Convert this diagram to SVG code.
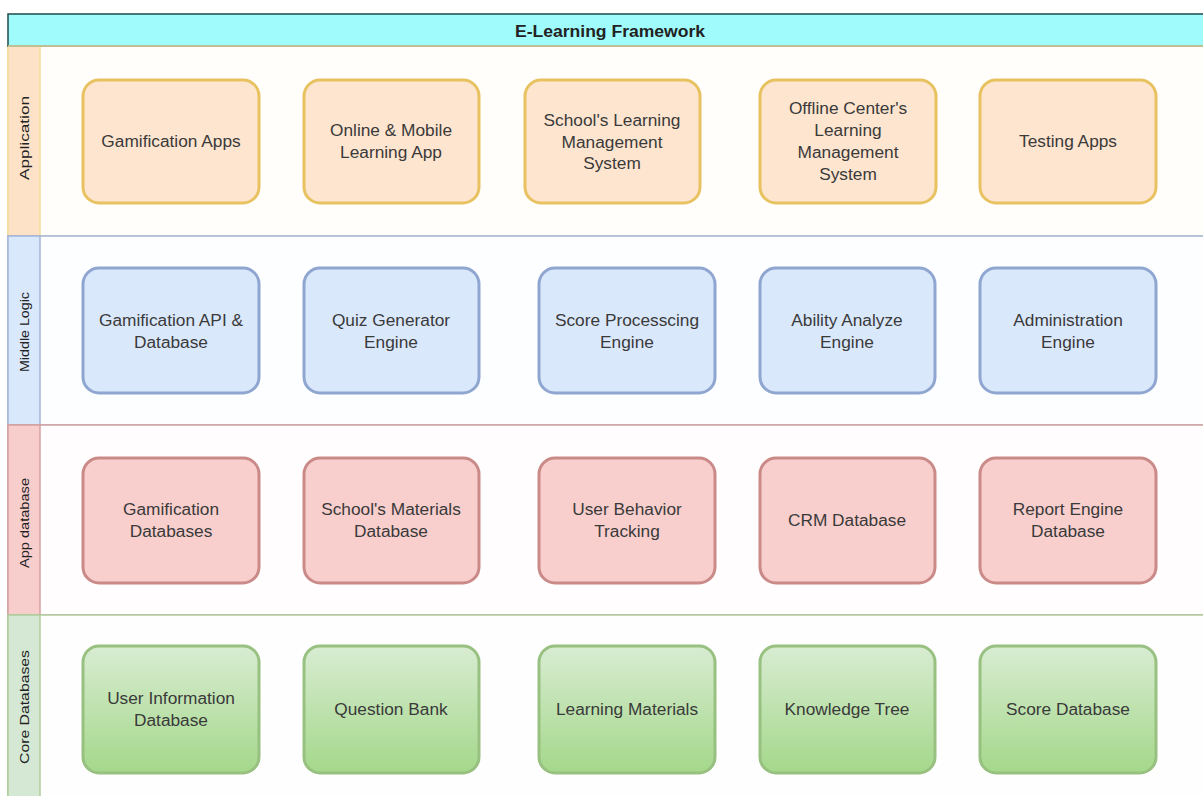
<svg xmlns="http://www.w3.org/2000/svg" width="1203" height="796" viewBox="0 0 1203 796">
<defs>
<linearGradient id="gG" x1="0" y1="0" x2="0" y2="1"><stop offset="0" stop-color="#d8ecd2"/><stop offset="1" stop-color="#a4d88a"/></linearGradient>
<style>
.t{font-family:"Liberation Sans",Arial,sans-serif;font-size:17.3px;fill:#3a3a3a;text-anchor:middle}
.lab{font-family:"Liberation Sans",Arial,sans-serif;font-size:13.5px;fill:#222;text-anchor:middle}
.o{fill:#fee5cf;stroke:#e8c260;stroke-width:3}
.b{fill:#dae8fc;stroke:#8fa6d0;stroke-width:3}
.r{fill:#f8cfcd;stroke:#c98a88;stroke-width:3}
.g{fill:url(#gG);stroke:#98c080;stroke-width:3}
</style>
</defs>
<rect width="1203" height="796" fill="#ffffff"/>
<g id="lanes">
<rect x="8" y="46" width="1200" height="190" fill="#fffefb" stroke="#f3dc9a" stroke-width="1.5"/>
<rect x="8" y="46" width="32" height="190" fill="#fde2c8" stroke="#f3dc9a" stroke-width="1.5"/>
<rect x="8" y="236" width="1200" height="189" fill="#fdfeff" stroke="#a3b5d6" stroke-width="1.5"/>
<rect x="8" y="236" width="32" height="189" fill="#dae8fc" stroke="#a3b5d6" stroke-width="1.5"/>
<rect x="8" y="425" width="1200" height="190" fill="#fffdfd" stroke="#d4a0a0" stroke-width="1.5"/>
<rect x="8" y="425" width="32" height="190" fill="#f8cecc" stroke="#d4a0a0" stroke-width="1.5"/>
<rect x="8" y="615" width="1200" height="190" fill="#fdfefd" stroke="#b0cc9c" stroke-width="1.5"/>
<rect x="8" y="615" width="32" height="190" fill="#d5e8d4" stroke="#b0cc9c" stroke-width="1.5"/>
<text class="lab" transform="translate(29,138) rotate(-90)" textLength="84" lengthAdjust="spacingAndGlyphs">Application</text>
<text class="lab" transform="translate(29,332) rotate(-90)" textLength="80" lengthAdjust="spacingAndGlyphs">Middle Logic</text>
<text class="lab" transform="translate(29,523) rotate(-90)" textLength="90" lengthAdjust="spacingAndGlyphs">App database</text>
<text class="lab" transform="translate(29,707) rotate(-90)" textLength="114" lengthAdjust="spacingAndGlyphs">Core Databases</text>
</g>
<g id="title">
<rect x="8" y="14" width="1200" height="32" fill="#a0fcfc" stroke="#1f4a4a" stroke-width="1.5"/>
<line x1="8" y1="46" x2="1203" y2="46" stroke="#e8d8a0" stroke-width="1.5"/>
<text x="610" y="37" font-family="Liberation Sans,Arial,sans-serif" font-size="16" font-weight="bold" fill="#222" text-anchor="middle" textLength="190" lengthAdjust="spacingAndGlyphs">E-Learning Framework</text>
</g>
<g id="n-gamification-apps"><rect class="o" x="83" y="80" width="176" height="123" rx="16"/><text class="t" x="171" y="147">Gamification Apps</text></g>
<g id="n-online-mobile"><rect class="o" x="304" y="80" width="175" height="123" rx="16"/><text class="t" x="391" y="136">Online &amp; Mobile</text><text class="t" x="391" y="158">Learning App</text></g>
<g id="n-school-lms"><rect class="o" x="525" y="80" width="175" height="123" rx="16"/><text class="t" x="612" y="126">School's Learning</text><text class="t" x="612" y="148">Management</text><text class="t" x="612" y="169">System</text></g>
<g id="n-offline-lms"><rect class="o" x="760" y="80" width="176" height="123" rx="16"/><text class="t" x="848" y="114">Offline Center's</text><text class="t" x="848" y="136">Learning</text><text class="t" x="848" y="158">Management</text><text class="t" x="848" y="180">System</text></g>
<g id="n-testing-apps"><rect class="o" x="980" y="80" width="176" height="123" rx="16"/><text class="t" x="1068" y="147">Testing Apps</text></g>

<g id="n-gamification-api"><rect class="b" x="83" y="268" width="176" height="125" rx="16"/><text class="t" x="171" y="326">Gamification API &amp;</text><text class="t" x="171" y="348">Database</text></g>
<g id="n-quiz"><rect class="b" x="304" y="268" width="175" height="125" rx="16"/><text class="t" x="391" y="326">Quiz Generator</text><text class="t" x="391" y="348">Engine</text></g>
<g id="n-score-proc"><rect class="b" x="539" y="268" width="176" height="125" rx="16"/><text class="t" x="627" y="326">Score Processcing</text><text class="t" x="627" y="348">Engine</text></g>
<g id="n-ability"><rect class="b" x="760" y="268" width="175" height="125" rx="16"/><text class="t" x="847" y="326">Ability Analyze</text><text class="t" x="847" y="348">Engine</text></g>
<g id="n-admin"><rect class="b" x="980" y="268" width="176" height="125" rx="16"/><text class="t" x="1068" y="326">Administration</text><text class="t" x="1068" y="348">Engine</text></g>

<g id="n-gamification-db"><rect class="r" x="83" y="458" width="176" height="125" rx="16"/><text class="t" x="171" y="515">Gamification</text><text class="t" x="171" y="537">Databases</text></g>
<g id="n-school-materials"><rect class="r" x="304" y="458" width="175" height="125" rx="16"/><text class="t" x="391" y="515">School's Materials</text><text class="t" x="391" y="537">Database</text></g>
<g id="n-user-behavior"><rect class="r" x="539" y="458" width="176" height="125" rx="16"/><text class="t" x="627" y="515">User Behavior</text><text class="t" x="627" y="537">Tracking</text></g>
<g id="n-crm"><rect class="r" x="760" y="458" width="175" height="125" rx="16"/><text class="t" x="847" y="526">CRM Database</text></g>
<g id="n-report"><rect class="r" x="980" y="458" width="176" height="125" rx="16"/><text class="t" x="1068" y="515">Report Engine</text><text class="t" x="1068" y="537">Database</text></g>

<g id="n-user-info"><rect class="g" x="83" y="646" width="176" height="127" rx="16"/><text class="t" x="171" y="704">User Information</text><text class="t" x="171" y="726">Database</text></g>
<g id="n-question-bank"><rect class="g" x="304" y="646" width="175" height="127" rx="16"/><text class="t" x="391" y="715">Question Bank</text></g>
<g id="n-learning-materials"><rect class="g" x="539" y="646" width="176" height="127" rx="16"/><text class="t" x="627" y="715">Learning Materials</text></g>
<g id="n-knowledge-tree"><rect class="g" x="760" y="646" width="175" height="127" rx="16"/><text class="t" x="847" y="715">Knowledge Tree</text></g>
<g id="n-score-db"><rect class="g" x="980" y="646" width="176" height="127" rx="16"/><text class="t" x="1068" y="715">Score Database</text></g>
<g id="connectors"></g>
</svg>
